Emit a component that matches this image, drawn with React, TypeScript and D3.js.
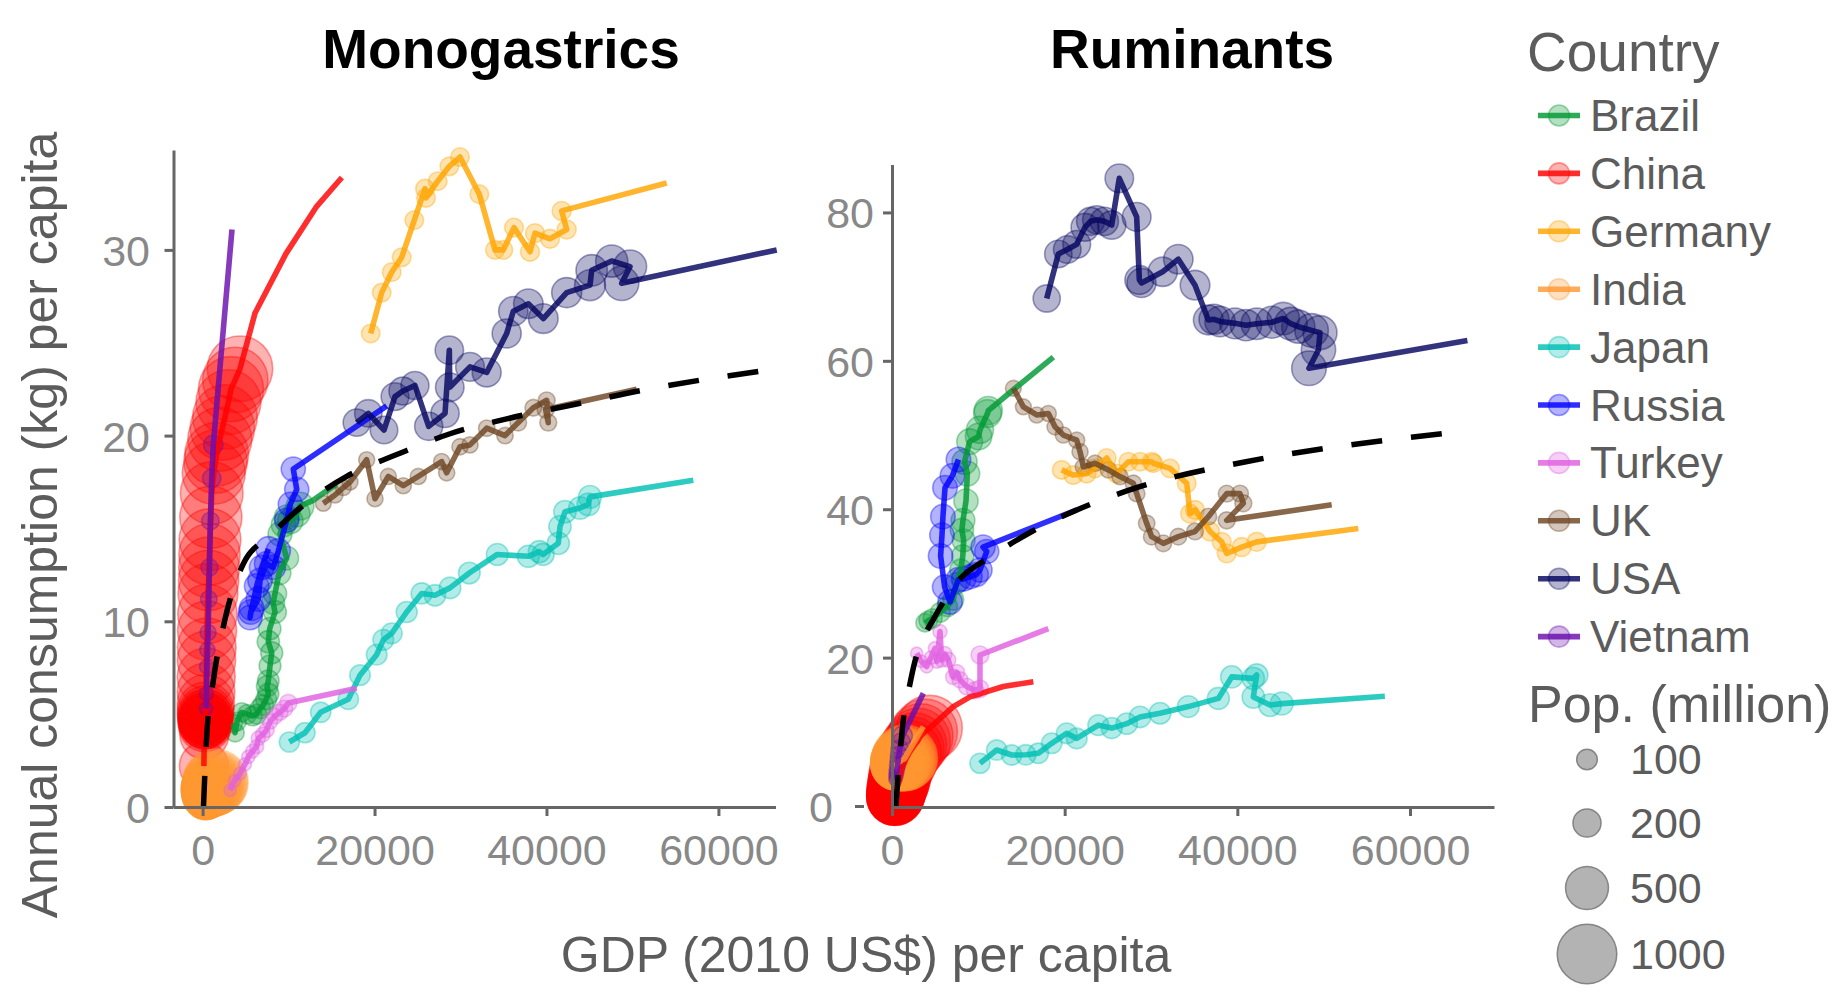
import { useEffect, useRef } from "react";
import * as d3 from "d3";

// [GDP per capita (2010 US$), consumption (kg per capita), population (million)]
type Pt = [number, number, number];
type XY = [number, number];

const countries = ["Brazil", "China", "Germany", "India", "Japan", "Russia", "Turkey", "UK", "USA", "Vietnam"];
const countryColors = ["#009933", "#ff0000", "#ffa500", "#ff9933", "#00bfb3", "#0000ff", "#e060e0", "#6e4623", "#050560", "#6a0dad"];

const xTicks = [0, 20000, 40000, 60000];
const monoYTicks = [0, 10, 20, 30];
const rumYTicks = [0, 20, 40, 60, 80];
const popBreaks = [100, 200, 500, 1000];

// ---------- Monogastrics ----------
const monoBrazil: Pt[] = [
  [3570, 4.5, 75], [3770, 4.0, 77], [4000, 4.6, 80], [4545, 5.1, 83], [5200, 5.0, 86], [5800, 4.9, 89],
  [6290, 5.0, 92], [6700, 5.3, 95], [7065, 5.5, 98], [7400, 5.8, 101], [7645, 6.1, 104], [7500, 6.5, 107],
  [7645, 6.8, 110], [7840, 7.6, 113], [8040, 8.3, 116], [7645, 8.9, 119], [7800, 9.6, 122], [8420, 10.5, 125],
  [8200, 11.0, 128], [8420, 11.5, 131], [8900, 12.6, 134], [9780, 13.4, 137], [9000, 14.7, 140], [9400, 15.2, 145],
  [9780, 15.6, 150], [10200, 15.4, 160], [10950, 15.8, 175], [11330, 16.2, 195],
];
const monoChina: Pt[] = [
  [150, 2.2, 660], [200, 3.9, 665], [220, 4.5, 682], [230, 4.7, 698], [240, 4.5, 715], [250, 4.8, 735],
  [260, 4.6, 755], [270, 4.4, 775], [290, 4.7, 796], [300, 4.9, 818], [310, 4.6, 841], [320, 4.8, 862],
  [335, 5.0, 882], [350, 5.2, 900], [380, 5.6, 916], [400, 6.2, 931], [420, 7.0, 944], [450, 7.9, 956],
  [480, 8.6, 968], [520, 9.5, 981], [560, 10.4, 994], [620, 11.5, 1009], [700, 12.2, 1026], [750, 12.9, 1044],
  [800, 13.6, 1061], [860, 14.4, 1077], [960, 15.6, 1093], [1060, 16.9, 1109], [1300, 18.0, 1123], [1500, 18.6, 1136],
  [1640, 19.0, 1148], [2000, 19.8, 1160], [2300, 20.4, 1172], [2600, 21.0, 1183], [3000, 21.8, 1193], [3300, 22.5, 1202],
  [3800, 23.0, 1210], [4350, 23.6, 1218],
];
const monoGermany: Pt[] = [
  [19554, 25.5, 78], [20833, 27.7, 78], [21996, 28.8, 78.5], [23159, 29.6, 78.5], [24627, 31.6, 78.3], [25870, 33.3, 78.2],
  [25986, 32.8, 78.2], [27346, 33.7, 78.1], [28700, 34.5, 78], [29941, 35.0, 78], [32190, 33.0, 78.5], [34013, 30.0, 79],
  [34980, 30.0, 79.4], [36220, 31.2, 80], [38083, 29.9, 80.5], [38665, 30.9, 81], [40410, 30.6, 81.5], [42350, 31.1, 82],
  [41768, 32.1, 82],
];
const monoIndia: Pt[] = [
  [330, 0.4, 450], [345, 0.45, 470], [360, 0.5, 490], [370, 0.5, 510], [380, 0.55, 535], [390, 0.55, 560],
  [400, 0.6, 585], [420, 0.6, 610], [440, 0.65, 640], [470, 0.7, 670], [500, 0.75, 700], [540, 0.8, 735],
  [590, 0.85, 770], [650, 0.9, 810], [720, 0.95, 850], [800, 1.0, 890], [880, 1.0, 930], [960, 1.05, 970],
  [1050, 1.1, 1010], [1150, 1.15, 1050], [1250, 1.2, 1090], [1350, 1.25, 1130], [1450, 1.3, 1170], [1500, 1.35, 1210],
];
const monoJapan: Pt[] = [
  [10090, 3.5, 94], [11910, 4.0, 95], [13735, 5.1, 96], [16950, 5.8, 97], [18310, 7.1, 99], [20250, 8.2, 100],
  [21020, 9.0, 101], [22000, 9.35, 103], [23740, 10.5, 104], [25485, 11.5, 106], [27030, 11.4, 108], [28780, 11.8, 110],
  [31025, 12.6, 112], [34280, 13.6, 114], [37890, 13.5, 116], [39165, 13.75, 117], [39600, 13.6, 118], [41375, 14.2, 119],
  [41570, 15.1, 120], [42155, 15.9, 121], [43900, 16.1, 123], [44870, 16.3, 124], [45060, 16.7, 126],
];
const monoRussia: Pt[] = [
  [7645, 13.9, 148], [6870, 12.9, 148], [6290, 11.9, 148], [5710, 10.7, 148], [5515, 10.2, 147], [5600, 10.5, 147],
  [6480, 11.2, 147], [6680, 12.2, 146], [7450, 13.1, 146], [8225, 12.9, 145], [8810, 13.8, 144], [9780, 15.45, 144],
  [10200, 16.3, 143], [10950, 17.1, 143], [10550, 18.2, 143],
];
const monoTurkey: Pt[] = [
  [3190, 0.9, 28], [3700, 1.4, 29], [4350, 1.8, 31], [4930, 2.3, 33], [5320, 2.7, 35], [5800, 3.0, 37],
  [6290, 3.25, 40], [6480, 3.7, 42], [7000, 3.9, 45], [7450, 4.15, 47], [7840, 4.6, 50], [8420, 4.9, 53],
  [9000, 5.1, 56], [9500, 5.3, 62], [9970, 5.6, 66],
];
const monoUK: Pt[] = [
  [14040, 16.35, 53], [15400, 16.8, 54], [16365, 17.2, 54.5], [17145, 17.5, 55], [19088, 18.7, 55.5], [20054, 16.6, 56],
  [21600, 17.8, 56], [23345, 17.3, 56.2], [25090, 17.8, 56.3], [27810, 18.6, 56.5], [28390, 18.0, 57], [29940, 19.4, 57.5],
  [31100, 19.5, 58], [33050, 20.4, 58.5], [35175, 20.0, 59], [36720, 20.7, 60], [38470, 21.5, 61], [40025, 21.9, 62],
  [40210, 20.7, 63], [39900, 21.4, 64],
];
const monoUSA: Pt[] = [
  [17925, 20.7, 186], [19275, 21.2, 189], [21100, 20.3, 192], [22380, 22.1, 195], [23300, 22.4, 197], [24700, 22.7, 199],
  [26300, 20.5, 201], [28200, 21.2, 203], [28700, 24.6, 205], [28750, 22.6, 207], [31105, 23.7, 210], [33045, 23.4, 213],
  [35370, 25.5, 216], [36140, 26.7, 219], [37890, 27.1, 222], [39630, 26.3, 225], [42350, 27.7, 232], [45060, 28.1, 245],
  [45260, 28.9, 257], [47590, 29.4, 270], [49715, 29.1, 290], [48750, 28.2, 310],
];
const monoVietnam: Pt[] = [
  [400, 5.3, 35], [450, 6.1, 40], [500, 7.55, 45], [560, 8.45, 50], [640, 9.4, 55], [720, 11.2, 60],
  [800, 12.9, 65], [900, 15.4, 70], [1060, 17.7, 78], [1240, 19.5, 88],
];

// projections (line only, continuing from the last observed point)
const monoBrazilProj: XY[] = [[12800, 16.5], [15600, 17.4]];
const monoChinaProj: XY[] = [[6100, 26.6], [9700, 29.8], [13200, 32.3], [16200, 33.9]];
const monoGermanyProj: XY[] = [[53986, 33.6]];
const monoIndiaProj: XY[] = [];
const monoJapanProj: XY[] = [[57080, 17.6]];
const monoRussiaProj: XY[] = [[21415, 21.6]];
const monoTurkeyProj: XY[] = [[17925, 6.4]];
const monoUKProj: XY[] = [[50490, 22.5]];
const monoUSAProj: XY[] = [[66780, 30.0]];
const monoVietnamProj: XY[] = [[3420, 31.1]];

const monoFit: XY[] = [
  [100, 0], [475, 3.8], [1245, 6.8], [2600, 10.1], [4740, 13.1], [7840, 14.6], [10550, 15.8],
  [16760, 17.8], [22960, 19.05], [28780, 20.1], [35370, 20.9], [43515, 21.7], [51260, 22.45], [66780, 23.6],
];

// ---------- Ruminants ----------
const rumBrazil: Pt[] = [
  [3820, 24.7, 75], [4200, 25.0, 80], [4700, 25.3, 85], [5600, 26.1, 90], [6400, 26.9, 96], [7100, 27.8, 102],
  [7450, 30.0, 108], [7960, 31.8, 114], [8200, 33.7, 120], [8300, 35.8, 126], [8100, 37.2, 132], [8220, 38.5, 138],
  [8570, 41.1, 144], [8730, 44.8, 150], [8400, 46.4, 156], [8990, 49.1, 165], [10030, 49.8, 175], [10190, 50.7, 185],
  [11060, 52.9, 195], [11150, 53.3, 200],
];
const rumChina: Pt[] = [
  [150, 0.8, 660], [200, 0.9, 665], [220, 1.0, 682], [230, 1.0, 698], [240, 1.0, 715], [250, 1.1, 735],
  [260, 1.1, 755], [270, 1.0, 775], [290, 1.1, 796], [300, 1.1, 818], [310, 1.1, 841], [320, 1.2, 862],
  [335, 1.2, 882], [350, 1.2, 900], [380, 1.3, 916], [400, 1.4, 931], [420, 1.5, 944], [450, 1.7, 956],
  [480, 1.9, 968], [520, 2.1, 981], [560, 2.3, 994], [620, 2.6, 1009], [700, 2.9, 1026], [750, 3.1, 1044],
  [800, 3.4, 1061], [860, 3.7, 1077], [960, 4.3, 1093], [1060, 4.8, 1109], [1300, 5.5, 1123], [1500, 6.0, 1136],
  [1640, 6.4, 1148], [2000, 7.2, 1160], [2300, 7.7, 1172], [2600, 8.2, 1183], [3000, 8.8, 1193], [3300, 9.4, 1202],
  [3800, 10.0, 1210], [4350, 10.5, 1218],
];
const rumGermany: Pt[] = [
  [19655, 45.3, 78], [21000, 44.6, 78], [22550, 44.8, 78.5], [23500, 45.5, 78.5], [24870, 46.9, 78.3], [26025, 44.8, 78.2],
  [27375, 46.4, 78.2], [28730, 46.4, 78.1], [30080, 46.4, 78], [30270, 46.2, 78], [32200, 45.5, 78.5], [34135, 43.5, 79],
  [34520, 39.4, 79.4], [35100, 39.9, 80], [36835, 37.0, 80.5], [38190, 35.6, 81], [38770, 34.05, 81.5], [40510, 34.9, 82],
  [42245, 35.6, 82],
];
const rumIndia: Pt[] = [
  [330, 5.0, 450], [345, 5.1, 470], [360, 5.1, 490], [370, 5.2, 510], [380, 5.2, 535], [390, 5.3, 560],
  [400, 5.3, 585], [420, 5.4, 610], [440, 5.4, 640], [470, 5.5, 670], [500, 5.5, 700], [540, 5.6, 735],
  [590, 5.7, 770], [650, 5.8, 810], [720, 5.8, 850], [800, 5.9, 890], [880, 6.0, 930], [960, 6.0, 970],
  [1050, 6.1, 1010], [1150, 6.2, 1050], [1250, 6.3, 1090], [1350, 6.3, 1130], [1450, 6.4, 1170], [1500, 6.5, 1210],
];
const rumJapan: Pt[] = [
  [10190, 5.75, 94], [12125, 7.55, 95], [13865, 6.87, 96], [15500, 6.9, 97], [16950, 7.1, 98], [18500, 8.45, 99],
  [20235, 9.8, 100], [21395, 9.1, 101], [23900, 10.9, 103], [25450, 10.5, 105], [27190, 11.1, 107], [28730, 12.0, 109],
  [31045, 12.5, 111], [34325, 13.4, 113], [37800, 14.5, 116], [39350, 17.4, 118], [41855, 17.2, 120], [42245, 17.65, 121],
  [41855, 14.7, 123], [43785, 13.6, 125], [45140, 13.8, 127],
];
const rumRussia: Pt[] = [
  [7700, 46.7, 148], [7000, 44.5, 148], [6140, 42.9, 148], [5900, 39.0, 148], [5790, 36.5, 147], [5630, 33.7, 147],
  [6100, 29.5, 147], [6720, 27.5, 146], [7680, 30.5, 146], [8300, 30.6, 145], [9035, 30.9, 144], [9760, 31.2, 144],
  [10190, 31.8, 143], [10970, 34.3, 143], [10550, 34.9, 143],
];
const rumTurkey: Pt[] = [
  [2860, 20.6, 28], [3400, 19.5, 30], [4020, 18.8, 32], [4500, 20.0, 34], [4980, 21.25, 36], [5200, 19.5, 38],
  [5560, 23.5, 40], [5750, 19.7, 42], [6100, 20.5, 45], [6520, 19.7, 47], [7100, 17.4, 50], [7500, 18.0, 53],
  [7880, 17.0, 56], [8650, 16.1, 60], [9615, 15.6, 64], [10190, 15.8, 68], [10190, 20.35, 72],
];
const rumUK: Pt[] = [
  [14055, 56.3, 53], [15215, 53.8, 54], [16760, 52.7, 54.5], [18110, 52.9, 55], [18880, 51.1, 55.5], [19845, 50.0, 56],
  [21395, 49.3, 56], [21780, 47.75, 56.2], [22160, 45.7, 56.3], [23515, 46.2, 56.5], [25060, 45.3, 57], [26410, 44.4, 57.5],
  [27955, 43.5, 58], [28345, 42.1, 58.5], [29500, 38.1, 59], [30080, 36.3, 59.5], [31430, 35.4, 60], [33165, 36.3, 60.5],
  [35100, 37.0, 61], [36640, 39.0, 61.5], [38770, 42.1, 62], [40310, 42.1, 62.5], [40695, 40.8, 63], [38770, 38.5, 64],
];
const rumUSA: Pt[] = [
  [17920, 68.4, 186], [19265, 74.4, 189], [20300, 75.0, 192], [21395, 75.7, 195], [22355, 78.0, 197], [23000, 78.8, 199],
  [23710, 79.0, 201], [24600, 78.8, 203], [25450, 78.3, 205], [26330, 84.6, 207], [28340, 79.4, 210], [28650, 70.9, 213],
  [28900, 70.5, 216], [31355, 72.0, 219], [33165, 73.7, 222], [35100, 70.2, 225], [36640, 65.5, 228], [37300, 65.6, 232],
  [37995, 65.3, 238], [39730, 65.05, 245], [41000, 64.8, 252], [42245, 65.0, 258], [44000, 65.2, 265], [45325, 65.7, 272],
  [46200, 65.0, 280], [47065, 64.6, 288], [48600, 64.1, 296], [49580, 63.8, 303], [49400, 61.5, 310], [48300, 59.0, 316],
];
const rumVietnam: Pt[] = [
  [400, 3.6, 35], [450, 4.0, 40], [500, 4.4, 45], [560, 4.9, 50], [640, 5.5, 55], [720, 6.2, 60],
  [800, 6.9, 65], [900, 7.7, 70], [1060, 8.6, 78], [1240, 9.5, 88],
];

const rumBrazilProj: XY[] = [[14055, 56.1], [18690, 60.5]];
const rumChinaProj: XY[] = [[7100, 13.4], [9035, 14.7], [12890, 16.1], [16370, 16.75]];
const rumGermanyProj: XY[] = [[54015, 37.4]];
const rumIndiaProj: XY[] = [[3630, 10.7]];
const rumJapanProj: XY[] = [[57085, 14.8]];
const rumRussiaProj: XY[] = [[21400, 39.9]];
const rumTurkeyProj: XY[] = [[18110, 23.9]];
const rumUKProj: XY[] = [[50930, 40.6]];
const rumUSAProj: XY[] = [[66650, 62.75]];
const rumVietnamProj: XY[] = [[3630, 15.2]];

const rumFit: XY[] = [
  [450, 0], [700, 4], [1000, 8], [1310, 11.6], [2000, 16], [2660, 19.5], [3500, 22.3], [4860, 25.3],
  [7420, 30], [11580, 33.7], [16200, 37], [21400, 39.9], [28600, 43], [41000, 46.4], [51400, 48.4], [66400, 50.5],
];

const monoData = [monoBrazil, monoChina, monoGermany, monoIndia, monoJapan, monoRussia, monoTurkey, monoUK, monoUSA, monoVietnam];
const monoProj = [monoBrazilProj, monoChinaProj, monoGermanyProj, monoIndiaProj, monoJapanProj, monoRussiaProj, monoTurkeyProj, monoUKProj, monoUSAProj, monoVietnamProj];
const rumData = [rumBrazil, rumChina, rumGermany, rumIndia, rumJapan, rumRussia, rumTurkey, rumUK, rumUSA, rumVietnam];
const rumProj = [rumBrazilProj, rumChinaProj, rumGermanyProj, rumIndiaProj, rumJapanProj, rumRussiaProj, rumTurkeyProj, rumUKProj, rumUSAProj, rumVietnamProj];

const FONT = "'Liberation Sans', Arial, Helvetica, sans-serif";
const axisGrey = "#666666";
const tickGrey = "#888888";
const textGrey = "#5c5c5c";

function App() {
  const ref = useRef<SVGSVGElement>(null);

  useEffect(() => {
    const svg = d3.select(ref.current);
    svg.selectAll("*").remove();
    svg.attr("font-family", FONT);

    const size = d3.scaleSqrt().domain([0, 1400]).range([1.3, 35]);

    const panels = [
      { title: "Monogastrics", titleX: 501, data: monoData, proj: monoProj, fit: monoFit, yTicks: monoYTicks,
        xDomain: [-3385, 66640], xRange: [173.5, 775.5], yDomain: [0, 35.38], yRange: [807, 150], labelPad: 14.5 },
      { title: "Ruminants", titleX: 1192, data: rumData, proj: rumProj, fit: rumFit, yTicks: rumYTicks,
        xDomain: [0, 69730], xRange: [892, 1494], yDomain: [0, 86.46], yRange: [806, 164.5], labelPad: 9 },
    ];

    panels.forEach((p, pi) => {
      const x = d3.scaleLinear().domain(p.xDomain).range(p.xRange);
      const y = d3.scaleLinear().domain(p.yDomain).range(p.yRange);
      const g = svg.append("g").attr("class", "panel");

      // points
      p.data.forEach((pts, i) => {
        g.append("g")
          .selectAll("circle")
          .data(pts)
          .join("circle")
          .attr("cx", d => x(d[0]))
          .attr("cy", d => y(d[1]))
          .attr("r", d => size(d[2]))
          .attr("fill", countryColors[i])
          .attr("fill-opacity", 0.3)
          .attr("stroke", countryColors[i])
          .attr("stroke-opacity", 0.38)
          .attr("stroke-width", 1.6);
      });

      // paths (observed + projection)
      const line = d3.line<XY>().x(d => x(d[0])).y(d => y(d[1]));
      p.data.forEach((pts, i) => {
        const path: XY[] = pts.map(d => [d[0], d[1]] as XY).concat(p.proj[i]);
        g.append("path")
          .attr("d", line(path))
          .attr("fill", "none")
          .attr("stroke", countryColors[i])
          .attr("stroke-opacity", 0.82)
          .attr("stroke-width", 5.6)
          .attr("stroke-linejoin", "round");
      });

      // fitted curve
      g.append("path")
        .attr("d", d3.line<XY>().x(d => x(d[0])).y(d => y(d[1])).curve(d3.curveMonotoneX)(p.fit))
        .attr("fill", "none")
        .attr("stroke", "#000")
        .attr("stroke-width", 5.5)
        .attr("stroke-dasharray", "31 29");

      // axes
      const xAxis = g.append("g")
        .attr("transform", "translate(0,807)")
        .call(d3.axisBottom(x).tickValues(xTicks).tickSize(9).tickSizeOuter(0).tickPadding(18.5).tickFormat(d3.format("d")));
      const yAxis = g.append("g")
        .attr("transform", `translate(${p.xRange[0]},0)`)
        .call(d3.axisLeft(y).tickValues(p.yTicks).tickSize(9).tickSizeOuter(0).tickPadding(p.labelPad));

      [xAxis, yAxis].forEach(a => {
        a.select(".domain").attr("stroke", axisGrey).attr("stroke-width", 3);
        a.selectAll(".tick line").attr("stroke", axisGrey).attr("stroke-width", 3);
        a.selectAll(".tick text")
          .attr("fill", tickGrey)
          .style("font-size", "43px")
          .style("font-family", FONT);
      });
      yAxis.selectAll(".tick text").attr("dy", "0.36em");

      if (pi === 1) {
        // the zero tick on this panel sits apart from the axis
        const zero = yAxis.selectAll<SVGGElement, number>(".tick").filter(d => d === 0);
        zero.select("line").attr("x1", -37).attr("x2", -28);
        zero.select("text").attr("x", -59);
      }

      svg.append("text")
        .attr("x", p.titleX)
        .attr("y", 67.7)
        .attr("text-anchor", "middle")
        .attr("font-weight", "bold")
        .style("font-size", "55px")
        .attr("fill", "#000")
        .text(p.title);
    });

    // axis titles
    svg.append("text")
      .attr("x", 866)
      .attr("y", 972)
      .attr("text-anchor", "middle")
      .style("font-size", "50px")
      .attr("fill", textGrey)
      .text("GDP (2010 US$) per capita");
    svg.append("text")
      .attr("transform", "translate(57,525) rotate(-90)")
      .attr("text-anchor", "middle")
      .style("font-size", "50px")
      .attr("fill", textGrey)
      .text("Annual consumption (kg) per capita");

    // colour legend
    const legend = svg.append("g");
    legend.append("text")
      .attr("x", 1527).attr("y", 71)
      .style("font-size", "55px")
      .attr("fill", textGrey)
      .text("Country");
    const items = legend.selectAll(".color-legend-item")
      .data(countries)
      .join("g")
      .attr("class", "color-legend-item")
      .attr("transform", (_, i) => `translate(0,${115.5 + 57.9 * i})`);
    items.append("line")
      .attr("x1", 1538).attr("x2", 1580)
      .attr("stroke", (_, i) => countryColors[i])
      .attr("stroke-opacity", 0.82)
      .attr("stroke-width", 5.6);
    items.append("circle")
      .attr("cx", 1559).attr("r", 10.5)
      .attr("fill", (_, i) => countryColors[i])
      .attr("fill-opacity", 0.3)
      .attr("stroke", (_, i) => countryColors[i])
      .attr("stroke-opacity", 0.38)
      .attr("stroke-width", 1.6);
    items.append("text")
      .attr("x", 1590).attr("y", 15.5)
      .style("font-size", "44px")
      .attr("fill", textGrey)
      .text(d => d);

    // size legend
    const popKeyY = [759.5, 823, 888, 954];
    legend.append("text")
      .attr("x", 1528).attr("y", 721.5)
      .style("font-size", "52px")
      .attr("fill", textGrey)
      .text("Pop. (million)");
    const sizeItems = legend.selectAll(".size-legend-item")
      .data(popBreaks)
      .join("g")
      .attr("class", "size-legend-item")
      .attr("transform", (_, i) => `translate(0,${popKeyY[i]})`);
    sizeItems.append("circle")
      .attr("cx", 1587)
      .attr("r", d => size(d))
      .attr("fill", "#808080")
      .attr("fill-opacity", 0.6)
      .attr("stroke", "#707070")
      .attr("stroke-opacity", 0.8)
      .attr("stroke-width", 1.5);
    sizeItems.append("text")
      .attr("x", 1630).attr("y", 14.5)
      .style("font-size", "43px")
      .attr("fill", textGrey)
      .text(d => d);

    return () => {
      svg.selectAll("*").remove();
    };
  }, []);

  return (
    <svg
      ref={ref}
      width={1839}
      height={992}
      style={{ position: "absolute", left: 0, top: 0, background: "#fff" }}
    />
  );
}

export default App;
